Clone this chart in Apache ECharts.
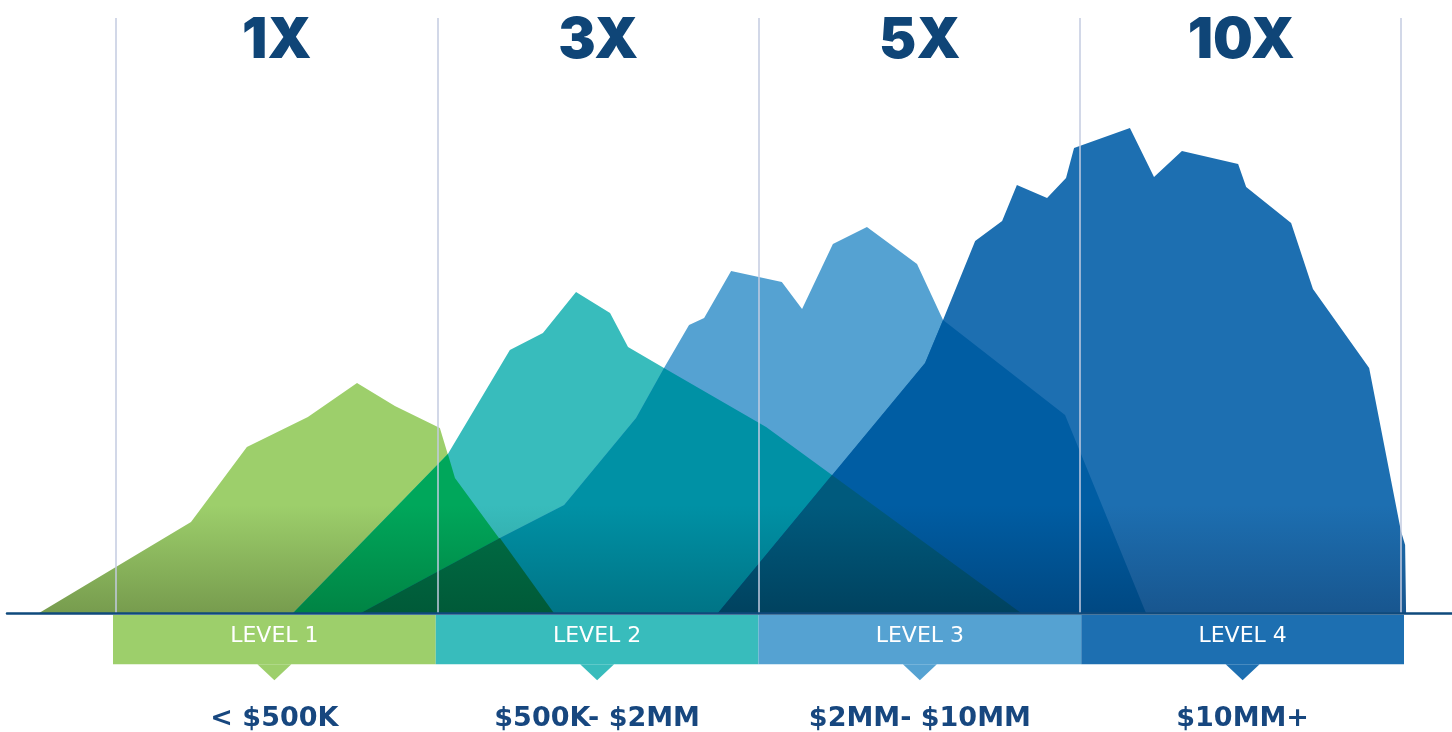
<!DOCTYPE html>
<html><head><meta charset="utf-8">
<script src="https://cdn.jsdelivr.net/npm/echarts@6/dist/echarts.min.js"></script>
<style>html,body{margin:0;padding:0;background:#fff;}#c{width:1452px;height:732px;}</style>
</head><body><div id="c"></div>
<script>
// ---- data (x: 100 units per level band, y: relative height) ----
const multipliers = ['1X', '3X', '5X', '10X'];
const levels = ['LEVEL 1', 'LEVEL 2', 'LEVEL 3', 'LEVEL 4'];
const ranges = ['< $500K', '$500K- $2MM', '$2MM- $10MM', '$10MM+'];
const levelValue = [1, 1, 1, 1];
const pointerValue = [-0.16, -0.16, -0.16, -0.16];
const levelBoundaries = [0, 100, 200, 300, 400];

const level1Area = [[-24,0],[23.3,18.2],[40.7,33.2],[59.7,39.2],[75,46],[86.8,41.4],[100.8,37],[105.5,27],[136.3,0]];
const level2Area = [[55.1,0],[103.3,31.8],[122.6,52.6],[132.9,56],[143.2,64.2],[153.8,60],[159.4,53.2],[170.6,49],[202.4,37.2],[222.9,27.6],[281.8,0]];
const level3Area = [[76.2,0],[119.5,15],[139.5,21.6],[161.9,39],[170.6,49],[178.4,57.6],[183.1,59],[191.5,68.4],[207.3,66.2],[213.6,60.8],[223.2,73.8],[233.8,77.2],[249.4,69.8],[257.5,58.6],[295.5,39.6],[320.7,0]];
const level4Area = [[187.4,0],[251.9,50],[257.5,58.6],[267.5,74.4],[275.9,78.4],[280.5,85.6],[289.9,83],[295.8,87],[298.3,93],[315.7,97],[323.2,87.2],[331.9,92.4],[349.4,89.8],[351.9,85.2],[365.9,78],[372.7,64.8],[390.2,49],[400.1,16.4],[401.4,13.6],[401.7,0]];
// overlap regions
const overlap12 = [[55.1,0],[103.3,31.8],[105.5,27],[136.3,0]];
const overlap23 = [[76.2,0],[119.5,15],[139.5,21.6],[161.9,39],[170.6,49],[202.4,37.2],[222.9,27.6],[281.8,0]];
const overlap123 = [[76.2,0],[119.5,15],[136.3,0]];
const overlap34 = [[187.4,0],[251.9,50],[257.5,58.6],[295.5,39.6],[320.7,0]];
const overlap234 = [[187.4,0],[222.9,27.6],[281.8,0]];

// ---- styles ----
const levelColors = ['#9dcf6b', '#38bcbc', '#55a2d2', '#1d6fb1'];
const navy = '#0f4577';
function grad(top, bottom) {
  return { type: 'linear', x: 0, y: 505, x2: 0, y2: 613, global: true,
    colorStops: [{ offset: 0, color: top }, { offset: 1, color: bottom }] };
}
function area(name, data, top, bottom) {
  return { name, type: 'line', xAxisIndex: 0, yAxisIndex: 0, data,
    showSymbol: false, symbol: 'none', silent: true,
    lineStyle: { width: 0, opacity: 0 },
    areaStyle: { color: grad(top, bottom), opacity: 1 } };
}

const chart = echarts.init(document.getElementById('c'), null, { renderer: 'canvas' });
chart.setOption({
  animation: false,
  backgroundColor: '#ffffff',
  grid: [
    { left: 7, right: 0, top: 18, bottom: 119 },
    { left: 113, right: 48, top: 615, height: 70 },
    { left: 116, right: 50, top: 2, height: 1 }
  ],
  xAxis: [
    { type: 'value', gridIndex: 0, min: -34, max: 416, z: 10,
      axisLine: { show: true, lineStyle: { color: '#0f4a7c', width: 2.5 } },
      axisTick: { show: false }, axisLabel: { show: false }, splitLine: { show: false } },
    { type: 'category', gridIndex: 1, data: ranges,
      axisLine: { show: false }, axisTick: { show: false },
      axisLabel: { margin: 21, color: '#17477f', fontSize: 27, fontWeight: 'bold',
        fontFamily: 'DejaVu Sans' } },
    { type: 'category', gridIndex: 2, data: multipliers, position: 'bottom',
      axisLine: { show: false }, axisTick: { show: false },
      axisLabel: { margin: 10, color: navy, fontSize: 56, fontWeight: 900,
        fontFamily: 'Inter' } }
  ],
  yAxis: [
    { type: 'value', gridIndex: 0, min: 0, max: 119, show: false },
    { type: 'value', gridIndex: 1, min: -0.4, max: 1, show: false },
    { type: 'value', gridIndex: 2, min: 0, max: 1, show: false }
  ],
  series: [
    area('Level 1', level1Area, '#9dcf6b', '#779c4e'),
    area('Level 2', level2Area, '#38bcbc', '#2a9a9a'),
    area('Level 3', level3Area, '#55a2d2', '#4486b0'),
    area('Level 4', level4Area, '#1d6fb1', '#18568f'),
    area('Level 1-2', overlap12, '#00a75b', '#008444'),
    area('Level 2-3', overlap23, '#0091a5', '#007486'),
    area('Level 1-2-3', overlap123, '#006f46', '#005a38'),
    area('Level 3-4', overlap34, '#005da3', '#004882'),
    area('Level 2-3-4', overlap234, '#005a7d', '#00425f'),
    { type: 'line', xAxisIndex: 0, yAxisIndex: 0, data: [], z: 5, silent: true,
      markLine: { silent: true, symbol: ['none', 'none'], animation: false,
        label: { show: false },
        lineStyle: { color: '#c3cbe0', width: 1.5, type: 'solid' },
        data: levelBoundaries.map(v => ({ xAxis: v })) } },
    { type: 'bar', xAxisIndex: 1, yAxisIndex: 1, barWidth: '100%', barGap: '-100%',
      silent: true,
      data: levelValue.map((v, i) => ({ value: v, itemStyle: { color: levelColors[i] } })),
      label: { show: true, position: 'inside', offset: [0, -3], color: '#ffffff', fontSize: 22,
        fontFamily: 'DejaVu Sans', formatter: p => levels[p.dataIndex] } },
    { type: 'scatter', xAxisIndex: 1, yAxisIndex: 1, symbol: 'triangle',
      symbolRotate: 180, symbolSize: [34, 16], silent: true,
      data: pointerValue.map((v, i) => ({ value: v, itemStyle: { color: levelColors[i], opacity: 1 } })) }
  ]
});
</script></body></html>
